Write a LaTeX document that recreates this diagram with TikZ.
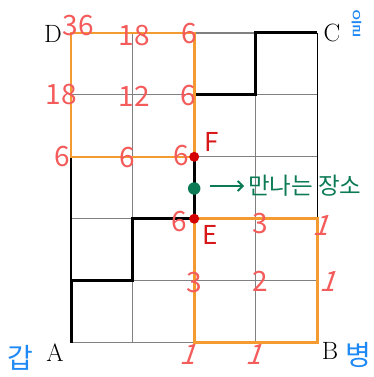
\documentclass[tikz,border=0pt]{standalone}
\usepackage{fontspec}
\newfontfamily\krfont{Noto Sans CJK KR}
\usetikzlibrary{arrows.meta}
\definecolor{numred}{HTML}{F45B5B}
\definecolor{ptred}{HTML}{D81818}
\definecolor{dotred}{HTML}{D40000}
\definecolor{meetgreen}{HTML}{0B7A55}
\definecolor{rectorange}{HTML}{F39B30}
\definecolor{nameblue}{HTML}{1E88F5}
\definecolor{gridgray}{HTML}{808080}
\tikzset{
  gridin/.style={draw=gridgray, line width=1.1pt},
  gridout/.style={draw=black, line width=1.1pt},
  route/.style={draw=black, line width=3pt, line join=miter},
  region/.style={draw=rectorange, line width=2.6pt},
  num/.style={text=numred, font=\krfont\fontsize{28}{28}\selectfont, inner sep=0pt},
  onestroke/.style={num, xslant=0.35, transform shape},
  ptlab/.style={text=ptred, font=\krfont\fontsize{26}{26}\selectfont, inner sep=0pt},
  corner/.style={text=black, font=\fontsize{25}{25}\selectfont, inner sep=0pt},
  person/.style={text=nameblue, font=\krfont\fontsize{28}{28}\selectfont, inner sep=0pt},
  reddot/.style={circle, fill=dotred, inner sep=0pt, minimum size=10pt},
  greendot/.style={circle, fill=meetgreen, inner sep=0pt, minimum size=12.5pt},
}
\begin{document}
\begin{tikzpicture}[x=1pt, y=-1pt]
\useasboundingbox (0,0) rectangle (373,377);
\foreach \i in {0,...,4}{
  \foreach \j in {0,...,5}{
    \coordinate (g\i\j) at ({71+61.6*\i},{33+61.9*\j});
  }
}
% grid
\foreach \j in {0,...,5}{ \draw[gridin] (g0\j) -- (g4\j); }
\foreach \i in {1,2,3}{ \draw[gridin] (g\i0) -- (g\i5); }
\draw[gridout] (g00) -- (g05);
\draw[gridout] (g40) -- (g45);
% route
\draw[route] (g05) -- (g04) -- (g14) -- (g13) -- (g23) -- (g21) -- (g31) -- (g30) -- (g40);
% regions
\draw[region] (g00) rectangle (g22);
\draw[region] (g23) rectangle (g45);
% dots
\node[reddot] (F) at (g22) {};
\node[reddot] (E) at (g23) {};
\node[greendot] (M) at (194.2,188.5) {};
% meeting text
\coordinate (arrowstart) at (210,186);
\node[text=meetgreen, font=\krfont\fontsize{23.5}{23.5}\selectfont, inner sep=0pt, anchor=west] (meet) at (248,186) {만나는 장소};
\draw[meetgreen, line width=1.8pt, -{Straight Barb[length=5pt,width=10pt]}] (arrowstart) -- ([xshift=-4pt]meet.west);
% corner letters
\node[corner] (D) at (53,34) {D};
\node[corner] (C) at (332,33) {C};
\node[corner] (A) at (55,353) {A};
\node[corner] (B) at (330,351) {B};
% people
\node[person] (gap) at (20,358) {갑};
\node[person] (byeong) at (358,355) {병};
\node[person, xscale=0.42, yscale=1.05, transform shape] (eul) at (357,24) {을};
% point labels
\node[ptlab] (Flab) at (212,142) {F};
\node[ptlab] (Elab) at (210,235) {E};
% numbers top-left region
\node[num] (n1) at (78,26) {36};
\node[num] (n2) at (134,36) {18};
\node[num] (n3) at (189,34) {6};
\node[num] (n4) at (61,95) {18};
\node[num] (n5) at (134,96) {12};
\node[num] (n6) at (188,96) {6};
\node[num] (n7) at (62,157) {6};
\node[num] (n8) at (127,158) {6};
\node[num] (n9) at (181,156) {6};
\node[num] (n10) at (179,222) {6};
% numbers bottom-right region
\node[num] (m1) at (260,224) {3};
\node[onestroke] (m2) at (324,226) {1};
\node[num] (m3) at (194,283) {3};
\node[num] (m4) at (260,281) {2};
\node[onestroke] (m5) at (331,282) {1};
\node[onestroke] (m6) at (191,355) {1};
\node[onestroke] (m7) at (257,355) {1};
\end{tikzpicture}
\end{document}
